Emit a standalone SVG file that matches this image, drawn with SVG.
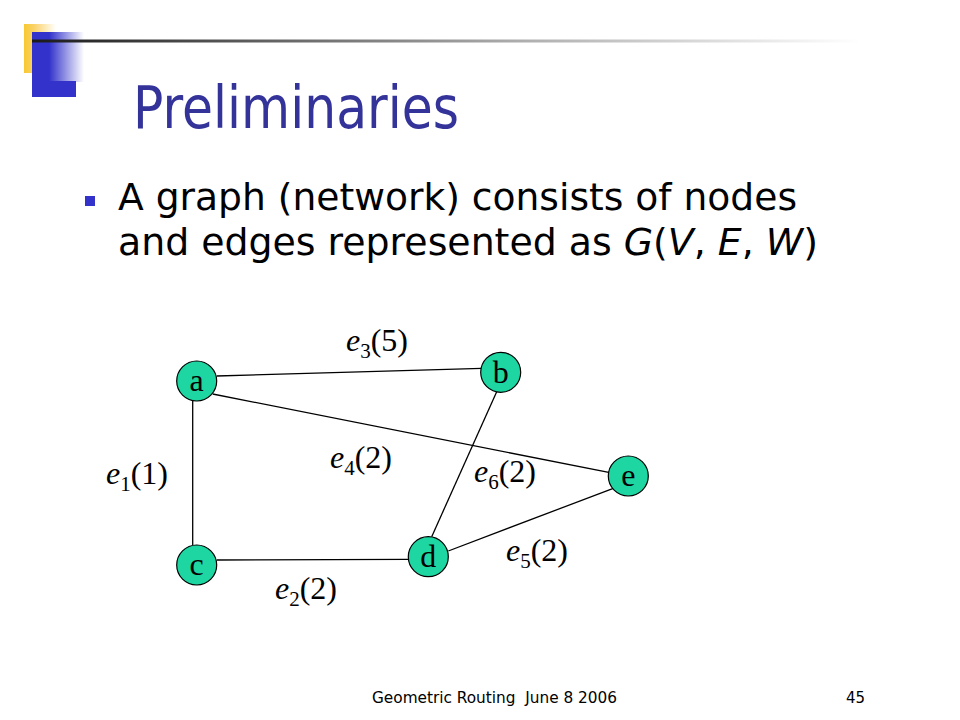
<svg xmlns="http://www.w3.org/2000/svg" width="960" height="720" viewBox="0 0 960 720">
<defs>
<linearGradient id="gY" x1="0" y1="0" x2="1" y2="0">
<stop offset="0" stop-color="#F8C830"/><stop offset="0.35" stop-color="#FAD470"/><stop offset="1" stop-color="#FFFFFF"/>
</linearGradient>
<linearGradient id="gB" x1="0" y1="0" x2="1" y2="0">
<stop offset="0" stop-color="#3333CC"/><stop offset="0.33" stop-color="#3333CC"/><stop offset="1" stop-color="#FFFFFF"/>
</linearGradient>
<linearGradient id="gL" gradientUnits="userSpaceOnUse" x1="32" y1="0" x2="860" y2="0">
<stop offset="0" stop-color="#1a1a1a"/><stop offset="0.3" stop-color="#666666"/><stop offset="0.6" stop-color="#b0b0b0"/><stop offset="1" stop-color="#ffffff"/>
</linearGradient>
<style>
.title{font-family:"DejaVu Sans","Liberation Sans",sans-serif;font-size:58.7px;fill:#333399}
.body{font-family:"DejaVu Sans","Liberation Sans",sans-serif;font-size:37.3px;fill:#000}
.foot{font-family:"DejaVu Sans","Liberation Sans",sans-serif;font-size:16px;fill:#000}
.edge{stroke:#000;stroke-width:1.3;fill:none}
.node circle{fill:#1DD6A2;stroke:#000;stroke-width:1.2}
.node text{font-family:"Liberation Serif","Times New Roman",serif;font-size:32px;fill:#000;text-anchor:middle}
.lbl{font-family:"Liberation Serif","Times New Roman",serif;font-size:32px;fill:#000}
.lbl .e{font-style:italic}
.lbl .s{font-size:21px}
</style>
</defs>
<g id="logo">
<rect x="24" y="24" width="32" height="49" fill="url(#gY)"/>
<rect x="32" y="32" width="52" height="50" fill="url(#gB)"/>
<rect x="32" y="81" width="44" height="16" fill="#3333CC"/>
<rect x="32" y="39.5" width="840" height="3" fill="url(#gL)"/>
</g>
<text class="title" x="133" y="128" textLength="326" lengthAdjust="spacingAndGlyphs">Preliminaries</text>
<rect x="85" y="196" width="10" height="10" fill="#3333CC"/>
<text class="body" x="118" y="210" textLength="679" lengthAdjust="spacingAndGlyphs">A graph (network) consists of nodes</text>
<text class="body" x="118" y="255" textLength="700" lengthAdjust="spacingAndGlyphs">and edges represented as <tspan font-style="italic">G</tspan>(<tspan font-style="italic">V</tspan>, <tspan font-style="italic">E</tspan>, <tspan font-style="italic">W</tspan>)</text>
<g id="connectors">
<line class="edge" x1="216.7" y1="376" x2="481.7" y2="368.3"/>
<line class="edge" x1="212.7" y1="394" x2="610" y2="472.7"/>
<line class="edge" x1="192.7" y1="400" x2="192.7" y2="545"/>
<line class="edge" x1="216.7" y1="560" x2="408.3" y2="559.3"/>
<line class="edge" x1="496.7" y1="391.7" x2="431.7" y2="536.7"/>
<line class="edge" x1="448.3" y1="551" x2="613.3" y2="488.3"/>
<text class="lbl" x="346" y="351"><tspan class="e">e</tspan><tspan class="s" dy="7">3</tspan><tspan dy="-7">(5)</tspan></text>
<text class="lbl" x="330" y="468"><tspan class="e">e</tspan><tspan class="s" dy="7">4</tspan><tspan dy="-7">(2)</tspan></text>
<text class="lbl" x="106" y="484"><tspan class="e">e</tspan><tspan class="s" dy="7">1</tspan><tspan dy="-7">(1)</tspan></text>
<text class="lbl" x="275" y="599"><tspan class="e">e</tspan><tspan class="s" dy="7">2</tspan><tspan dy="-7">(2)</tspan></text>
<text class="lbl" x="474" y="482"><tspan class="e">e</tspan><tspan class="s" dy="7">6</tspan><tspan dy="-7">(2)</tspan></text>
<text class="lbl" x="506" y="561"><tspan class="e">e</tspan><tspan class="s" dy="7">5</tspan><tspan dy="-7">(2)</tspan></text>
</g>
<g id="node-a" class="node"><circle cx="196.7" cy="381" r="20"/><text x="196.7" y="391">a</text></g>
<g id="node-b" class="node"><circle cx="500.7" cy="372.3" r="20"/><text x="500.7" y="383">b</text></g>
<g id="node-c" class="node"><circle cx="196.7" cy="565" r="20"/><text x="196.7" y="575">c</text></g>
<g id="node-d" class="node"><circle cx="428.3" cy="556.7" r="20"/><text x="428.3" y="567">d</text></g>
<g id="node-e" class="node"><circle cx="628.3" cy="476" r="20"/><text x="628.3" y="486">e</text></g>
<text class="foot" x="372" y="703" textLength="245" lengthAdjust="spacingAndGlyphs" xml:space="preserve">Geometric Routing  June 8 2006</text>
<text class="foot" x="846" y="703" textLength="19" lengthAdjust="spacingAndGlyphs">45</text>
</svg>
